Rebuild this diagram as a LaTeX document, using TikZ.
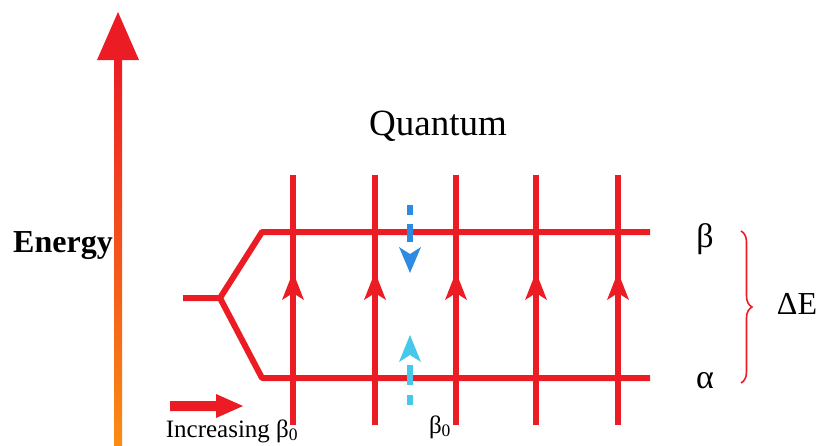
\documentclass[tikz,border=0pt]{standalone}
\usepackage{fontspec}
\setmainfont{Liberation Serif}
\usetikzlibrary{decorations.pathreplacing}
\definecolor{lred}{RGB}{236,28,36}
\definecolor{eorange}{RGB}{250,140,20}
\definecolor{dblue}{RGB}{45,140,225}
\definecolor{cblue}{RGB}{70,200,235}
\tikzset{
  level/.style={draw=lred, line width=6pt, line join=round},
  vline/.style={draw=lred, line width=6.5pt},
  uphead/.style={fill=lred},
  dash1/.style={fill=dblue},
  dash2/.style={fill=cblue},
  lbl/.style={inner sep=0pt, anchor=base},
}
\begin{document}
\begin{tikzpicture}[x=1pt,y=-1pt]
\useasboundingbox (0,0) rectangle (819,445);
% energy axis
\shade[top color=lred, bottom color=eorange] (114,58) rectangle (122,445);
\fill[lred] (118,12) -- (139,60) -- (97,60) -- cycle;
\node[lbl, font=\bfseries\fontsize{32}{36}\selectfont] (en) at (63,252) {Energy};
% title
\node[lbl, font=\fontsize{37}{42}\selectfont] (q) at (438,135) {Quantum};
% levels
\coordinate (stub) at (183,298);
\coordinate (br) at (220,298);
\coordinate (tl) at (262,232);
\coordinate (tr) at (650,232);
\coordinate (bl) at (262,378);
\coordinate (brr) at (650,378);
\draw[level] (stub) -- (br) -- (tl) -- (tr);
\draw[level] (br) -- (bl) -- (brr);
% vertical lines with upward heads
\foreach \x/\n in {293/a,375/b,456/c,536/d,618/e}{
  \coordinate (\n t) at (\x,175);
  \coordinate (\n b) at (\x,425);
  \draw[vline] (\n t) -- (\n b);
  \fill[uphead] (\x,272) -- (\x+11,300) -- (\x,293) -- (\x-11,300) -- cycle;
}
% blue dashed arrows
\fill[dash1] (407,205) rectangle (413,215);
\fill[dash1] (407,224) rectangle (413,242);
\fill[dash1] (410,273) -- (421,247) -- (410,254) -- (399,247) -- cycle;
\fill[dash2] (410,335) -- (421,362) -- (410,355) -- (399,362) -- cycle;
\fill[dash2] (407,365) rectangle (413,385);
\fill[dash2] (407,395) rectangle (413,405);
% increasing arrow
\coordinate (ia) at (170,406);
\fill[lred] (170,401) -- (216,401) -- (216,394) -- (243,406) -- (216,418) -- (216,411) -- (170,411) -- cycle;
\node[lbl, font=\fontsize{25}{30}\selectfont] (inc) at (232,437) {Increasing β\textsubscript{0}};
\node[lbl, font=\fontsize{25}{30}\selectfont] (b0) at (440,433) {β\textsubscript{0}};
% labels
\node[lbl, font=\fontsize{34}{40}\selectfont] (beta) at (705,247) {β};
\node[lbl, font=\fontsize{34}{40}\selectfont] (alpha) at (705,388) {α};
\draw[lred, line width=1.6pt, decorate, decoration={brace, amplitude=11pt}] (741,231) -- (741,383);
\node[lbl, font=\fontsize{32}{36}\selectfont] (de) at (797,314) {ΔE};
\end{tikzpicture}
\end{document}
